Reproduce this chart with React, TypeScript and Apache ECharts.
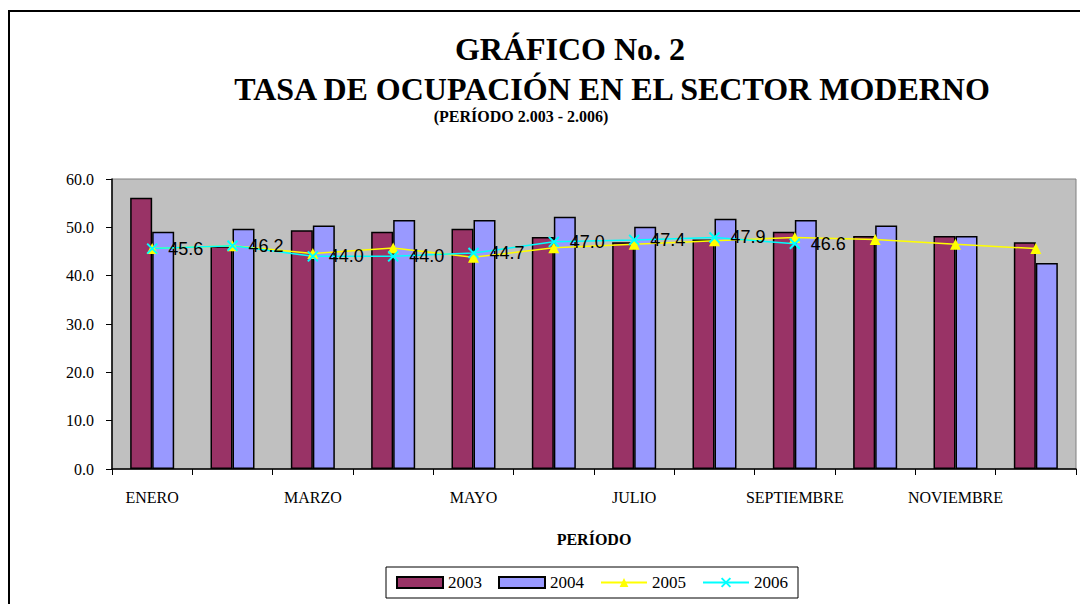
import React, { useEffect, useRef } from "react";
import * as echarts from "echarts";

const months = ["ENERO", "FEBRERO", "MARZO", "ABRIL", "MAYO", "JUNIO", "JULIO", "AGOSTO", "SEPTIEMBRE", "OCTUBRE", "NOVIEMBRE", "DICIEMBRE"];
const s2003 = [56.1, 46.1, 49.4, 49.1, 49.7, 48.0, 46.9, 47.5, 49.1, 48.2, 48.2, 46.9];
const s2004 = [49.1, 49.7, 50.4, 51.5, 51.5, 52.2, 50.1, 51.8, 51.5, 50.4, 48.2, 42.6];
const s2005 = [45.6, 46.2, 44.6, 45.7, 43.8, 45.8, 46.5, 47.2, 47.9, 47.5, 46.5, 45.6];
const s2006 = [45.6, 46.2, 44.0, 44.0, 44.7, 47.0, 47.4, 47.9, 46.6];
const yTicks = [0, 10, 20, 30, 40, 50, 60];

const serif = "Liberation Serif";
const sans = "Liberation Sans";

export default function App() {
  const ref = useRef<HTMLDivElement>(null);
  useEffect(() => {
    if (!ref.current) return;
    const chart = echarts.init(ref.current, null, { renderer: "svg" });
    chart.setOption({
      animation: false,
      backgroundColor: "#ffffff",
      textStyle: { fontFamily: serif },
      grid: {
        left: 112,
        right: 4,
        top: 179,
        bottom: 135,
        show: true,
        backgroundColor: "#C0C0C0",
        borderColor: "#808080",
        borderWidth: 1,
      },
      graphic: [
        {
          type: "rect",
          shape: { x: 9, y: 11, width: 1100, height: 620 },
          style: { fill: "none", stroke: "#000", lineWidth: 2 },
          silent: true,
        },
        {
          type: "text",
          x: 570,
          y: 49,
          style: { text: "GRÁFICO No. 2", fontFamily: serif, fontWeight: "bold", fontSize: 32, fill: "#000", align: "center", verticalAlign: "middle" },
        },
        {
          type: "text",
          x: 612,
          y: 89,
          style: { text: "TASA DE OCUPACIÓN EN EL SECTOR MODERNO", fontFamily: serif, fontWeight: "bold", fontSize: 32, fill: "#000", align: "center", verticalAlign: "middle" },
        },
        {
          type: "text",
          x: 521,
          y: 116,
          style: { text: "(PERÍODO 2.003 - 2.006)", fontFamily: serif, fontWeight: "bold", fontSize: 16, fill: "#000", align: "center", verticalAlign: "middle" },
        },
      ],
      legend: {
        left: 386,
        top: 567,
        padding: [7, 10],
        borderColor: "#000",
        borderWidth: 1,
        itemWidth: 46,
        itemHeight: 11,
        itemGap: 16,
        textStyle: { fontFamily: serif, fontSize: 17, color: "#000" },
        data: [
          { name: "2003", icon: "rect" },
          { name: "2004", icon: "rect" },
          { name: "2005" },
          { name: "2006" },
        ],
      },
      xAxis: {
        type: "category",
        data: months,
        axisLine: { lineStyle: { color: "#000", width: 1.5 } },
        axisTick: { show: true, interval: 0, length: 6, lineStyle: { color: "#000" } },
        axisLabel: { interval: 1, margin: 20, fontFamily: serif, fontSize: 16, color: "#000" },
        name: "PERÍODO",
        nameLocation: "middle",
        nameGap: 62,
        nameTextStyle: { fontFamily: serif, fontSize: 16, fontWeight: "bold", color: "#000" },
        splitLine: { show: false },
      },
      yAxis: {
        type: "value",
        min: yTicks[0],
        max: yTicks[yTicks.length - 1],
        interval: 10,
        axisLine: { show: true, lineStyle: { color: "#000", width: 1.5 } },
        axisTick: { show: true, length: 6, lineStyle: { color: "#000" } },
        axisLabel: { margin: 18, fontFamily: serif, fontSize: 16, color: "#000", formatter: (v: number) => v.toFixed(1) },
        splitLine: { show: false },
      },
      series: [
        {
          name: "2003",
          type: "bar",
          data: s2003,
          barWidth: 22,
          barGap: "0%",
          itemStyle: { color: "#993366", borderColor: "#000", borderWidth: 1.5 },
        },
        {
          name: "2004",
          type: "bar",
          data: s2004,
          barWidth: 22,
          itemStyle: { color: "#9999FF", borderColor: "#000", borderWidth: 1.5 },
        },
        {
          name: "2005",
          type: "line",
          data: s2005,
          symbol: "triangle",
          symbolSize: 11,
          lineStyle: { color: "#FFFF00", width: 1.5 },
          itemStyle: { color: "#FFFF00" },
        },
        {
          name: "2006",
          type: "line",
          data: s2006,
          symbol: "path://M0 0L10 10M10 0L0 10",
          symbolSize: 10,
          lineStyle: { color: "#00FFFF", width: 1.5 },
          itemStyle: { color: "#00FFFF", borderColor: "#00FFFF", borderWidth: 2 },
          label: {
            show: true,
            position: "right",
            distance: 10,
            fontFamily: sans,
            fontSize: 18,
            color: "#000",
            formatter: (p: any) => Number(p.value).toFixed(1),
          },
        },
      ],
    });
    return () => chart.dispose();
  }, []);
  return <div ref={ref} style={{ position: "fixed", left: 0, top: 0, width: 1080, height: 604 }} />;
}
